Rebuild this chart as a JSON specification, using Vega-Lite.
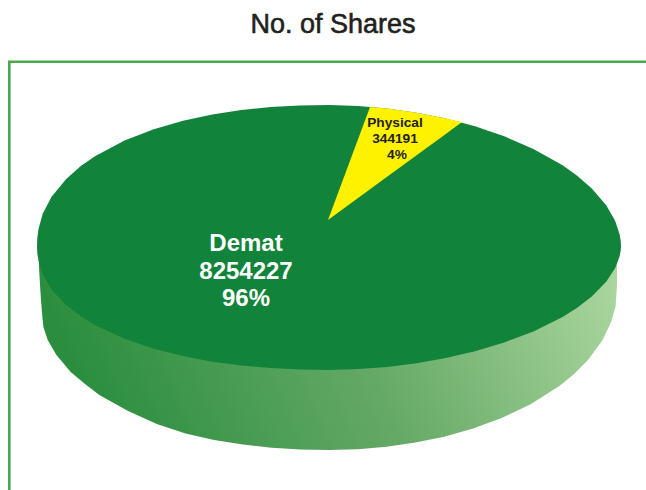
{"$schema":"https://vega.github.io/schema/vega-lite/v6.json","autosize":{"type":"none"},"width":646,"height":490,"padding":0,"background":"white","config":{"view":{"stroke":null}},
"datasets":{
"wall":[{"x":39,"top":262,"bottom":267},{"x":40,"top":258,"bottom":285},{"x":41,"top":255,"bottom":300},{"x":42,"top":250,"bottom":313},{"x":43.4,"top":250,"bottom":327},{"x":47.7,"top":250,"bottom":340},{"x":56.4,"top":250,"bottom":355},{"x":70.7,"top":250,"bottom":372},{"x":85,"top":250,"bottom":384},{"x":99.4,"top":250,"bottom":395},{"x":128.1,"top":250,"bottom":411},{"x":156.8,"top":250,"bottom":424},{"x":185.5,"top":250,"bottom":433.6},{"x":214.2,"top":250,"bottom":440.1},{"x":242.9,"top":250,"bottom":444.5},{"x":271.6,"top":250,"bottom":447.7},{"x":300.3,"top":250,"bottom":449.6},{"x":329,"top":250,"bottom":450},{"x":357.8,"top":250,"bottom":449.2},{"x":386.6,"top":250,"bottom":446.8},{"x":415.4,"top":250,"bottom":442.6},{"x":444.2,"top":250,"bottom":436.7},{"x":473,"top":250,"bottom":428.6},{"x":501.8,"top":250,"bottom":418},{"x":530.6,"top":250,"bottom":404.2},{"x":559.4,"top":250,"bottom":386},{"x":573.8,"top":250,"bottom":374.3},{"x":588.2,"top":250,"bottom":359.8},{"x":602.6,"top":250,"bottom":339.9},{"x":611.2,"top":250,"bottom":321.8},{"x":615.6,"top":255,"bottom":306},{"x":617,"top":262,"bottom":285}],
"topface":[{"x":37,"top":246,"bottom":246},{"x":37.3,"top":237.9,"bottom":253.1},{"x":38.5,"top":228.9,"bottom":261},{"x":42.8,"top":213.6,"bottom":274.5},{"x":51.6,"top":196.7,"bottom":289.4},{"x":66.2,"top":178.9,"bottom":305},{"x":80.8,"top":166,"bottom":316.3},{"x":95.4,"top":155.9,"bottom":325.2},{"x":124.6,"top":140.5,"bottom":338.8},{"x":153.8,"top":129.3,"bottom":348.7},{"x":183,"top":120.8,"bottom":356.1},{"x":212.2,"top":114.4,"bottom":361.7},{"x":241.4,"top":110.1,"bottom":365.5},{"x":270.6,"top":107.1,"bottom":368.1},{"x":299.8,"top":105.4,"bottom":369.6},{"x":329,"top":105,"bottom":370},{"x":358.2,"top":106,"bottom":369.1},{"x":387.4,"top":108.5,"bottom":366.9},{"x":416.6,"top":112.8,"bottom":363.2},{"x":445.8,"top":118.5,"bottom":358.1},{"x":475,"top":126.3,"bottom":351.3},{"x":504.2,"top":136.3,"bottom":342.5},{"x":533.4,"top":148.9,"bottom":331.4},{"x":562.6,"top":165.3,"bottom":316.9},{"x":577.2,"top":175.8,"bottom":307.8},{"x":591.8,"top":188.6,"bottom":296.5},{"x":606.4,"top":205.5,"bottom":281.6},{"x":615.2,"top":220.9,"bottom":268.1},{"x":619.5,"top":233.9,"bottom":256.7},{"x":620.7,"top":240.8,"bottom":250.6},{"x":621,"top":246,"bottom":246}],
"physical":[{"x":328,"top":220,"bottom":220},{"x":370,"top":107,"bottom":189.3},{"x":387.4,"top":108.5,"bottom":176.6},{"x":416.6,"top":112.8,"bottom":155.2},{"x":445.8,"top":118.5,"bottom":133.9},{"x":462,"top":122,"bottom":122}],
"frame":[{"seq":1,"x":9.3,"y":490},{"seq":2,"x":9.3,"y":61.8},{"seq":3,"x":646,"y":61.8}],
"titleText":[{"label":"No. of Shares","x":333,"y":33}],
"demat":[{"label":"Demat","x":246,"y":251},{"label":"8254227","x":246,"y":279},{"label":"96%","x":246,"y":306}],
"phys":[{"label":"Physical","x":395,"y":127},{"label":"344191","x":395,"y":143},{"label":"4%","x":397,"y":159}]},
"layer":[
{"data":{"name":"frame"},"mark":{"type":"line","stroke":"#4aa94f","strokeWidth":2.6},"encoding":{"x":{"field":"x","type":"quantitative","scale":{"domain":[0,646]},"axis":null},"y":{"field":"y","type":"quantitative","scale":{"domain":[490,0]},"axis":null},"order":{"field":"seq"}}},
{"data":{"name":"wall"},"mark":{"type":"area","color":{"gradient":"linear","x1":0,"y1":0.14,"x2":1,"y2":0,"stops":[{"offset":0,"color":"#2b8e3e"},{"offset":0.5,"color":"#65a966"},{"offset":1,"color":"#aed8a1"}]}},"encoding":{"x":{"field":"x","type":"quantitative","scale":{"domain":[0,646]},"axis":null},"y":{"field":"top","type":"quantitative","scale":{"domain":[490,0]},"axis":null},"y2":{"field":"bottom"}}},
{"data":{"name":"topface"},"mark":{"type":"area","color":"#12833a"},"encoding":{"x":{"field":"x","type":"quantitative","scale":{"domain":[0,646]},"axis":null},"y":{"field":"top","type":"quantitative","scale":{"domain":[490,0]},"axis":null},"y2":{"field":"bottom"}}},
{"data":{"name":"physical"},"mark":{"type":"area","color":"#fff200"},"encoding":{"x":{"field":"x","type":"quantitative","scale":{"domain":[0,646]},"axis":null},"y":{"field":"top","type":"quantitative","scale":{"domain":[490,0]},"axis":null},"y2":{"field":"bottom"}}},
{"data":{"name":"titleText"},"mark":{"type":"text","font":"Liberation Sans","fontSize":27,"fontWeight":"normal","color":"#231f20","stroke":"#231f20","strokeWidth":0.6,"baseline":"alphabetic","align":"center"},"encoding":{"x":{"field":"x","type":"quantitative","scale":{"domain":[0,646]},"axis":null},"y":{"field":"y","type":"quantitative","scale":{"domain":[490,0]},"axis":null},"text":{"field":"label"}}},
{"data":{"name":"demat"},"mark":{"type":"text","font":"Liberation Sans","fontSize":24,"fontWeight":"bold","color":"white","baseline":"alphabetic","align":"center"},"encoding":{"x":{"field":"x","type":"quantitative","scale":{"domain":[0,646]},"axis":null},"y":{"field":"y","type":"quantitative","scale":{"domain":[490,0]},"axis":null},"text":{"field":"label"}}},
{"data":{"name":"phys"},"mark":{"type":"text","font":"Liberation Sans","fontSize":13.7,"fontWeight":"bold","color":"#231f20","baseline":"alphabetic","align":"center"},"encoding":{"x":{"field":"x","type":"quantitative","scale":{"domain":[0,646]},"axis":null},"y":{"field":"y","type":"quantitative","scale":{"domain":[490,0]},"axis":null},"text":{"field":"label"}}}
]}
